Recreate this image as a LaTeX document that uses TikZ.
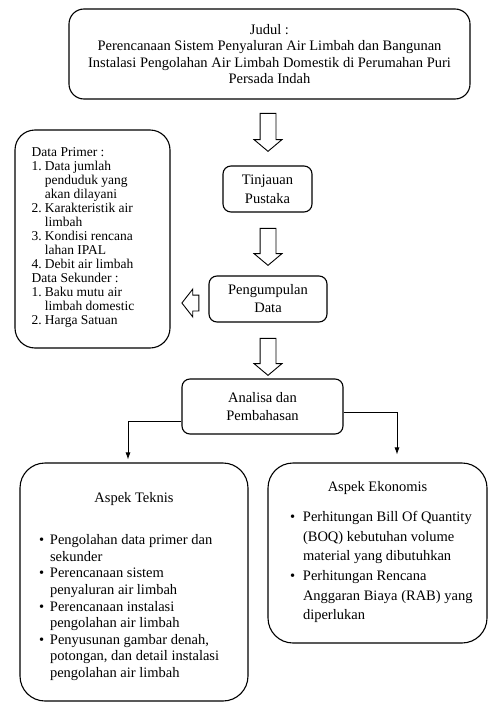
\documentclass[tikz,border=0pt]{standalone}
\usepackage{fontspec}
\setmainfont{Liberation Serif}
\usetikzlibrary{positioning,arrows.meta,shapes.arrows}

\newcommand{\butirbulat}[2]{\par\hangindent=#1\hangafter=1\noindent\makebox[#1][l]{\textbullet}#2}

\tikzset{
  kotak/.style={draw, line width=1.1pt, rounded corners=8pt, inner sep=0pt},
  panah/.style={single arrow, draw, line width=0.9pt, inner xsep=0pt, inner ysep=7.5pt,
    single arrow head extend=6pt, single arrow tip angle=100},
  garis/.style={line width=0.8pt, -{Latex[length=7pt,width=5pt]}}
}

\begin{document}
\begin{tikzpicture}[x=1pt, y=-1pt, every node/.style={font=\fontsize{14.5}{16.3}\selectfont}]
\useasboundingbox (0,0) rectangle (490,704);
% judul
\node[kotak, rounded corners=15pt, align=center, minimum width=401pt, minimum height=90pt] (judul) at (269.5,54)
  {Judul :\\Perencanaan Sistem Penyaluran Air Limbah dan Bangunan\\Instalasi Pengolahan Air Limbah Domestik di Perumahan Puri\\Persada Indah};
% alur tengah
\node[kotak, align=center, minimum width=89pt, minimum height=46pt, font=\fontsize{14.5}{19}\selectfont] (tinjauan) at (267.5,189) {Tinjauan\\Pustaka};
\node[kotak, align=center, minimum width=118pt, minimum height=46pt, font=\fontsize{14.5}{18}\selectfont] (pengumpulan) at (268,299) {Pengumpulan\\Data};
\node[kotak, align=center, minimum width=161pt, minimum height=55pt, font=\fontsize{14.5}{18}\selectfont] (analisa) at (262.5,406.5) {Analisa dan\\Pembahasan};
\node[panah, rotate=-90, minimum height=38pt, minimum width=27pt] (panah1) at (268,129) {};
\node[panah, rotate=-90, minimum height=37pt, minimum width=27pt] (panah2) at (268,243.5) {};
\node[panah, rotate=-90, minimum height=37pt, minimum width=27pt] (panah3) at (268,353.5) {};
\node[panah, rotate=180, minimum height=17pt, minimum width=25pt, single arrow tip angle=104] (panahkiri) at (193.5,303) {};
% data primer dan sekunder
\node[kotak, rounded corners=20pt, minimum width=155pt, minimum height=218pt] (data) at (92.5,239) {};
\node[anchor=north west, inner sep=0pt, font=\fontsize{13.5}{14}\selectfont] (isidata)
  at ([xshift=17pt,yshift=-17pt]data.north west)
  {\begin{tabular}{@{}l@{\hspace{3pt}}l@{}}
  \multicolumn{2}{@{}l@{}}{Data Primer :}\\
  1. & Data jumlah\\
     & penduduk yang\\
     & akan dilayani\\
  2. & Karakteristik air\\
     & limbah\\
  3. & Kondisi rencana\\
     & lahan IPAL\\
  4. & Debit air limbah\\
  \multicolumn{2}{@{}l@{}}{Data Sekunder :}\\
  1. & Baku mutu air\\
     & limbah domestic\\
  2. & Harga Satuan
  \end{tabular}};
% aspek teknis dan ekonomis
\node[kotak, rounded corners=25pt] (teknis) at (134,582)
  {\parbox[c][238pt][t]{228pt}{\fontsize{14.5}{16.6}\selectfont\raggedright\leftskip=19pt
  \vspace*{29pt}{\centering Aspek Teknis\par}
  \vspace*{26pt}
  \butirbulat{11pt}{Pengolahan data primer dan\newline sekunder}
  \butirbulat{11pt}{Perencanaan sistem\newline penyaluran air limbah}
  \butirbulat{11pt}{Perencanaan instalasi\newline pengolahan air limbah}
  \butirbulat{11pt}{Penyusunan gambar denah,\newline potongan, dan detail instalasi\newline pengolahan air limbah}\par}};
\node[kotak, rounded corners=25pt] (ekonomis) at (377.5,553)
  {\parbox[c][180pt][t]{219pt}{\fontsize{14.5}{19.6}\selectfont\raggedright\leftskip=22pt
  \vspace*{18pt}{\centering Aspek Ekonomis\par}
  \vspace*{11pt}
  \butirbulat{13pt}{Perhitungan Bill Of Quantity\newline (BOQ) kebutuhan volume\newline material yang dibutuhkan}
  \butirbulat{13pt}{Perhitungan Rencana\newline Anggaran Biaya (RAB) yang\newline diperlukan}\par}};
% penghubung
\draw[garis] ([yshift=-14.5pt]analisa.west) -| ([xshift=-6pt,yshift=3pt]teknis.north);
\draw[garis] ([yshift=-5.5pt]analisa.east) -| ([xshift=19.5pt,yshift=8pt]ekonomis.north);
\end{tikzpicture}
\end{document}
